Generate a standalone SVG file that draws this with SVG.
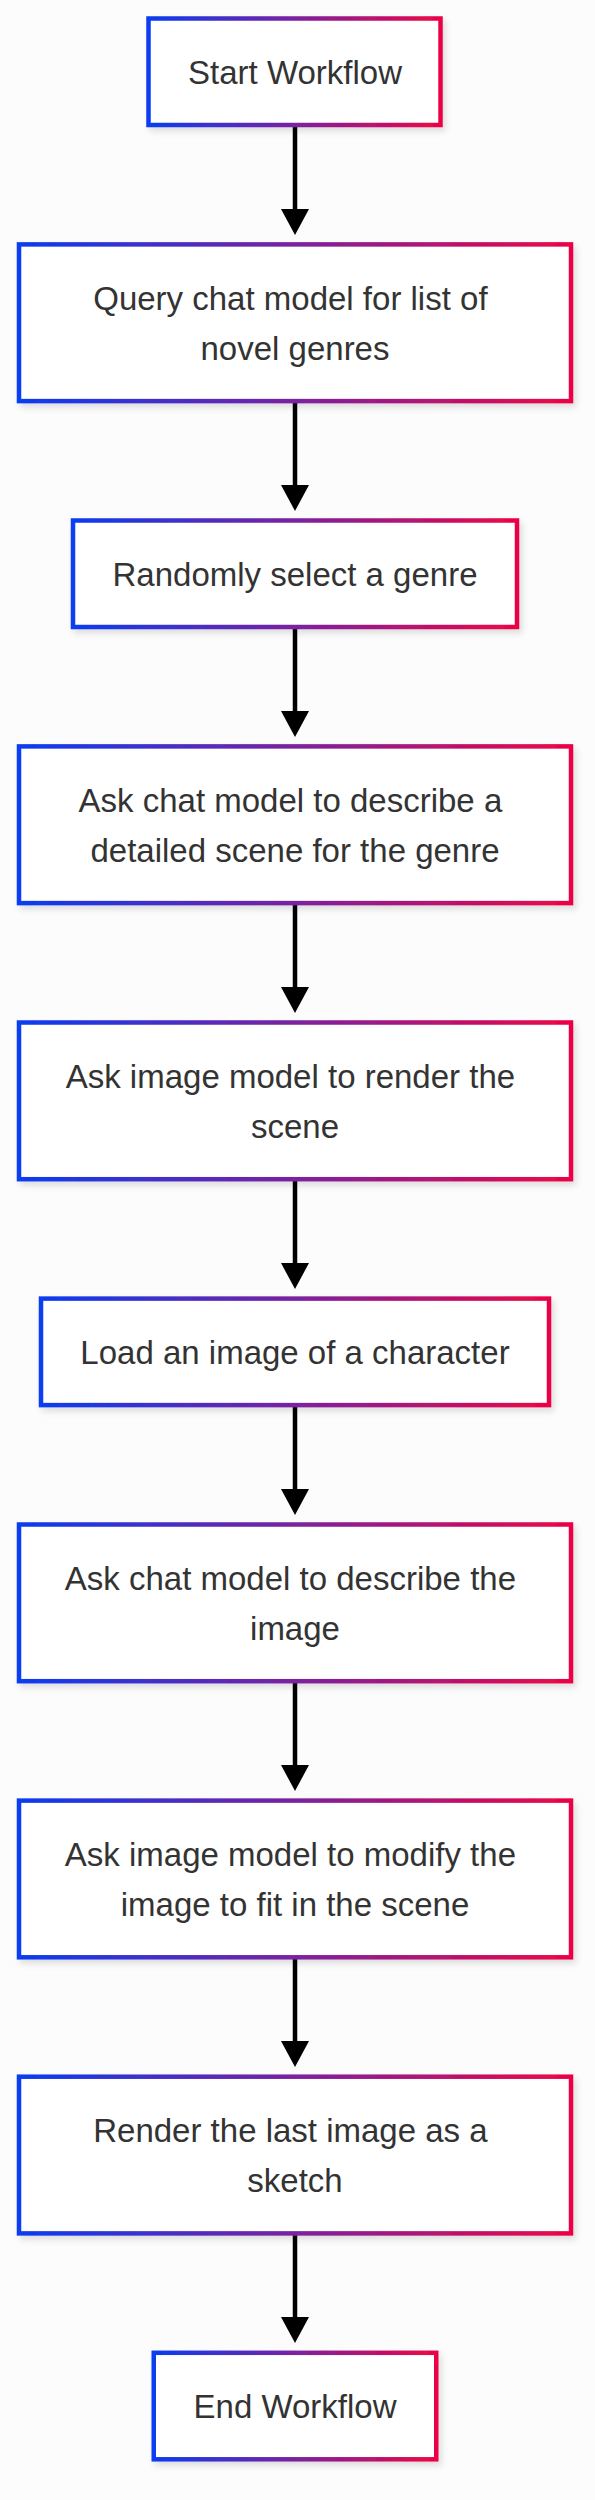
<svg xmlns="http://www.w3.org/2000/svg" width="595" height="2500" viewBox="0 0 595 2500">
<defs>
<linearGradient id="g" x1="0" y1="0" x2="1" y2="0">
<stop offset="0" stop-color="#0a3cf0"/>
<stop offset="0.5" stop-color="#7b22a0"/>
<stop offset="1" stop-color="#ec0545"/>
</linearGradient>
<filter id="sh" x="-10%" y="-10%" width="120%" height="130%">
<feDropShadow dx="3" dy="4" stdDeviation="3" flood-color="#000" flood-opacity="0.12"/>
</filter>
<marker id="ah" markerUnits="userSpaceOnUse" markerWidth="26" markerHeight="28" viewBox="0 0 26 28" refX="0" refY="14" orient="auto">
<path d="M0,0 L26,14 L0,28 Z" fill="#000"/>
</marker>
</defs>
<style>
.box{fill:#ffffff;stroke:url(#g);stroke-width:4.5;filter:url(#sh)}
.t{font-family:"Liberation Sans",Arial,sans-serif;font-size:33px;fill:#333333;text-anchor:middle}
.e{stroke:#000;stroke-width:4.5;fill:none;marker-end:url(#ah)}
</style>
<rect width="595" height="2500" fill="#fcfcfc"/>
<g id="connectors">
<line class="e" x1="295" y1="125" x2="295" y2="209"/>
<line class="e" x1="295" y1="401" x2="295" y2="485"/>
<line class="e" x1="295" y1="627" x2="295" y2="711"/>
<line class="e" x1="295" y1="903" x2="295" y2="987"/>
<line class="e" x1="295" y1="1179" x2="295" y2="1263"/>
<line class="e" x1="295" y1="1405" x2="295" y2="1489"/>
<line class="e" x1="295" y1="1681" x2="295" y2="1765"/>
<line class="e" x1="295" y1="1957" x2="295" y2="2041"/>
<line class="e" x1="295" y1="2233" x2="295" y2="2317"/>
</g>
<g id="start">
<rect class="box" x="148.5" y="18.5" width="292" height="106.5"/>
<text class="t" x="295" y="83.5">Start Workflow</text>
</g>
<g id="query">
<rect class="box" x="19" y="244.4" width="552" height="156.7"/>
<text class="t" x="290.4" y="309.5">Query chat model for list of</text>
<text class="t" x="295" y="359.5">novel genres</text>
</g>
<g id="select">
<rect class="box" x="73" y="520.5" width="444" height="106.5"/>
<text class="t" x="295" y="585.5">Randomly select a genre</text>
</g>
<g id="scene">
<rect class="box" x="19" y="746.4" width="552" height="156.7"/>
<text class="t" x="290.4" y="811.5">Ask chat model to describe a</text>
<text class="t" x="295" y="861.5">detailed scene for the genre</text>
</g>
<g id="render">
<rect class="box" x="19" y="1022.5" width="552" height="156.7"/>
<text class="t" x="290.4" y="1087.6">Ask image model to render the</text>
<text class="t" x="295" y="1137.6">scene</text>
</g>
<g id="load">
<rect class="box" x="41" y="1298.6" width="508" height="106.5"/>
<text class="t" x="295" y="1363.6">Load an image of a character</text>
</g>
<g id="describe">
<rect class="box" x="19" y="1524.5" width="552" height="156.7"/>
<text class="t" x="290.4" y="1589.6">Ask chat model to describe the</text>
<text class="t" x="295" y="1639.6">image</text>
</g>
<g id="modify">
<rect class="box" x="19" y="1800.6" width="552" height="156.7"/>
<text class="t" x="290.4" y="1865.7">Ask image model to modify the</text>
<text class="t" x="295" y="1915.7">image to fit in the scene</text>
</g>
<g id="sketch">
<rect class="box" x="19" y="2076.7" width="552" height="156.7"/>
<text class="t" x="290.4" y="2141.8">Render the last image as a</text>
<text class="t" x="295" y="2191.8">sketch</text>
</g>
<g id="end">
<rect class="box" x="153.75" y="2352.8" width="282.5" height="106.5"/>
<text class="t" x="295" y="2417.8">End Workflow</text>
</g>
</svg>
